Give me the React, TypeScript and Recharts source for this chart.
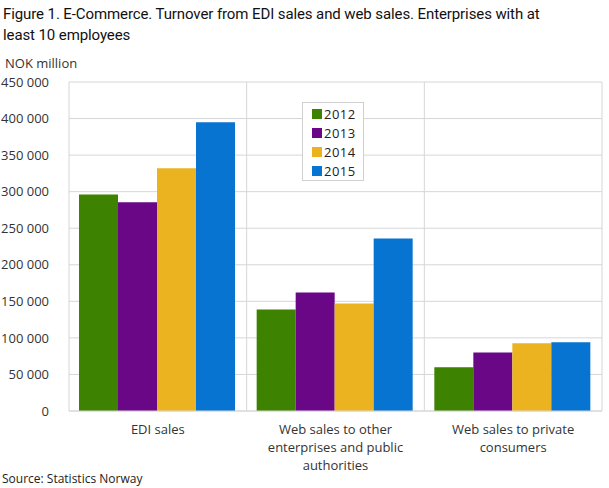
import { BarChart, Bar, XAxis, YAxis, CartesianGrid } from 'recharts';

const categories = ['EDI sales', 'Web sales to other enterprises and public authorities', 'Web sales to private consumers'];
const categoryLines = [['EDI sales'], ['Web sales to other', 'enterprises and public', 'authorities'], ['Web sales to private', 'consumers']];
const years = ['2012', '2013', '2014', '2015'];
const values2012 = [296000, 139000, 60000];
const values2013 = [285500, 162000, 80000];
const values2014 = [332000, 147000, 92500];
const values2015 = [395000, 236000, 94000];
const yTicks = [0, 50000, 100000, 150000, 200000, 250000, 300000, 350000, 400000, 450000];
const titleLines = ['Figure 1. E-Commerce. Turnover from EDI sales and web sales. Enterprises with at', 'least 10 employees'];

const colors = ['#3d8200', '#690786', '#ebb31f', '#0874d1'];
const seriesValues = [values2012, values2013, values2014, values2015];

const data = categories.map((name, i) => {
  const row: any = { name };
  years.forEach((y, j) => {
    row[y] = seriesValues[j][i];
  });
  return row;
});

const font = '"Open Sans", sans-serif';

const formatNumber = (v: number) => String(v).replace(/\B(?=(\d{3})+(?!\d))/g, ' ');

const CategoryTick = ({ x, y, payload }: any) => {
  const lines = categoryLines[categories.indexOf(payload.value)] || [payload.value];
  return (
    <text x={x} y={y} textAnchor="middle" fill="#333" fontSize={13} fontFamily={font}>
      {lines.map((l: string, i: number) => (
        <tspan key={i} x={x} dy={i === 0 ? 15 : 18}>
          {l}
        </tspan>
      ))}
    </text>
  );
};

const LegendBox = () => (
  <div
    style={{
      position: 'absolute',
      left: 302,
      top: 102,
      border: '1px solid #d0d0d0',
      background: '#fff',
      width: 60,
      height: 76,
      paddingTop: 1,
    }}
  >
    {years.map((y, i) => (
      <div key={y} style={{ display: 'flex', alignItems: 'center', height: 19, paddingLeft: 9 }}>
        <span style={{ width: 10, height: 10, background: colors[i], display: 'inline-block', marginRight: 2 }} />
        <span style={{ fontFamily: font, fontSize: 13, color: '#222', letterSpacing: 0.5 }}>{y}</span>
      </div>
    ))}
  </div>
);

export default function App() {
  return (
    <div style={{ position: 'absolute', left: 0, top: 0, width: 609, height: 488, background: '#fff', fontFamily: font }}>
      <BarChart
        width={609}
        height={488}
        data={data}
        margin={{ top: 82, right: 7, left: 0, bottom: 0 }}
        barCategoryGap={10}
        barGap={0}
      >
        <CartesianGrid
          stroke="#d6d6d6"
          verticalCoordinatesGenerator={({ offset }: any) =>
            [0, 1, 2, 3].map((k) => offset.left + (offset.width * k) / categories.length)
          }
        />
        <XAxis
          dataKey="name"
          interval={0}
          tickLine={false}
          axisLine={{ stroke: '#d6d6d6' }}
          tick={<CategoryTick />}
          height={77}
        />
        <YAxis
          domain={[0, 450000]}
          ticks={yTicks}
          interval={0}
          width={69}
          axisLine={false}
          tickLine={false}
          tickMargin={14}
          tickFormatter={formatNumber}
          tick={{ fill: '#333', fontSize: 13, fontFamily: font }}
        />
        {years.map((y, i) => (
          <Bar key={y} dataKey={y} fill={colors[i]} isAnimationActive={false} />
        ))}
      </BarChart>
      {titleLines.map((t, i) => (
        <div
          key={i}
          style={{
            position: 'absolute',
            left: 3,
            top: 4 + i * 21,
            fontSize: 15,
            lineHeight: '21px',
            letterSpacing: -0.1,
            color: '#111',
            whiteSpace: 'nowrap',
            fontFamily: 'Roboto, sans-serif',
          }}
        >
          {t}
        </div>
      ))}
      <div style={{ position: 'absolute', left: 5, top: 54, fontSize: 13, color: '#333' }}>NOK million</div>
      <LegendBox />
      <div style={{ position: 'absolute', left: 2, top: 470, fontSize: 12, color: '#222' }}>Source: Statistics Norway</div>
    </div>
  );
}
